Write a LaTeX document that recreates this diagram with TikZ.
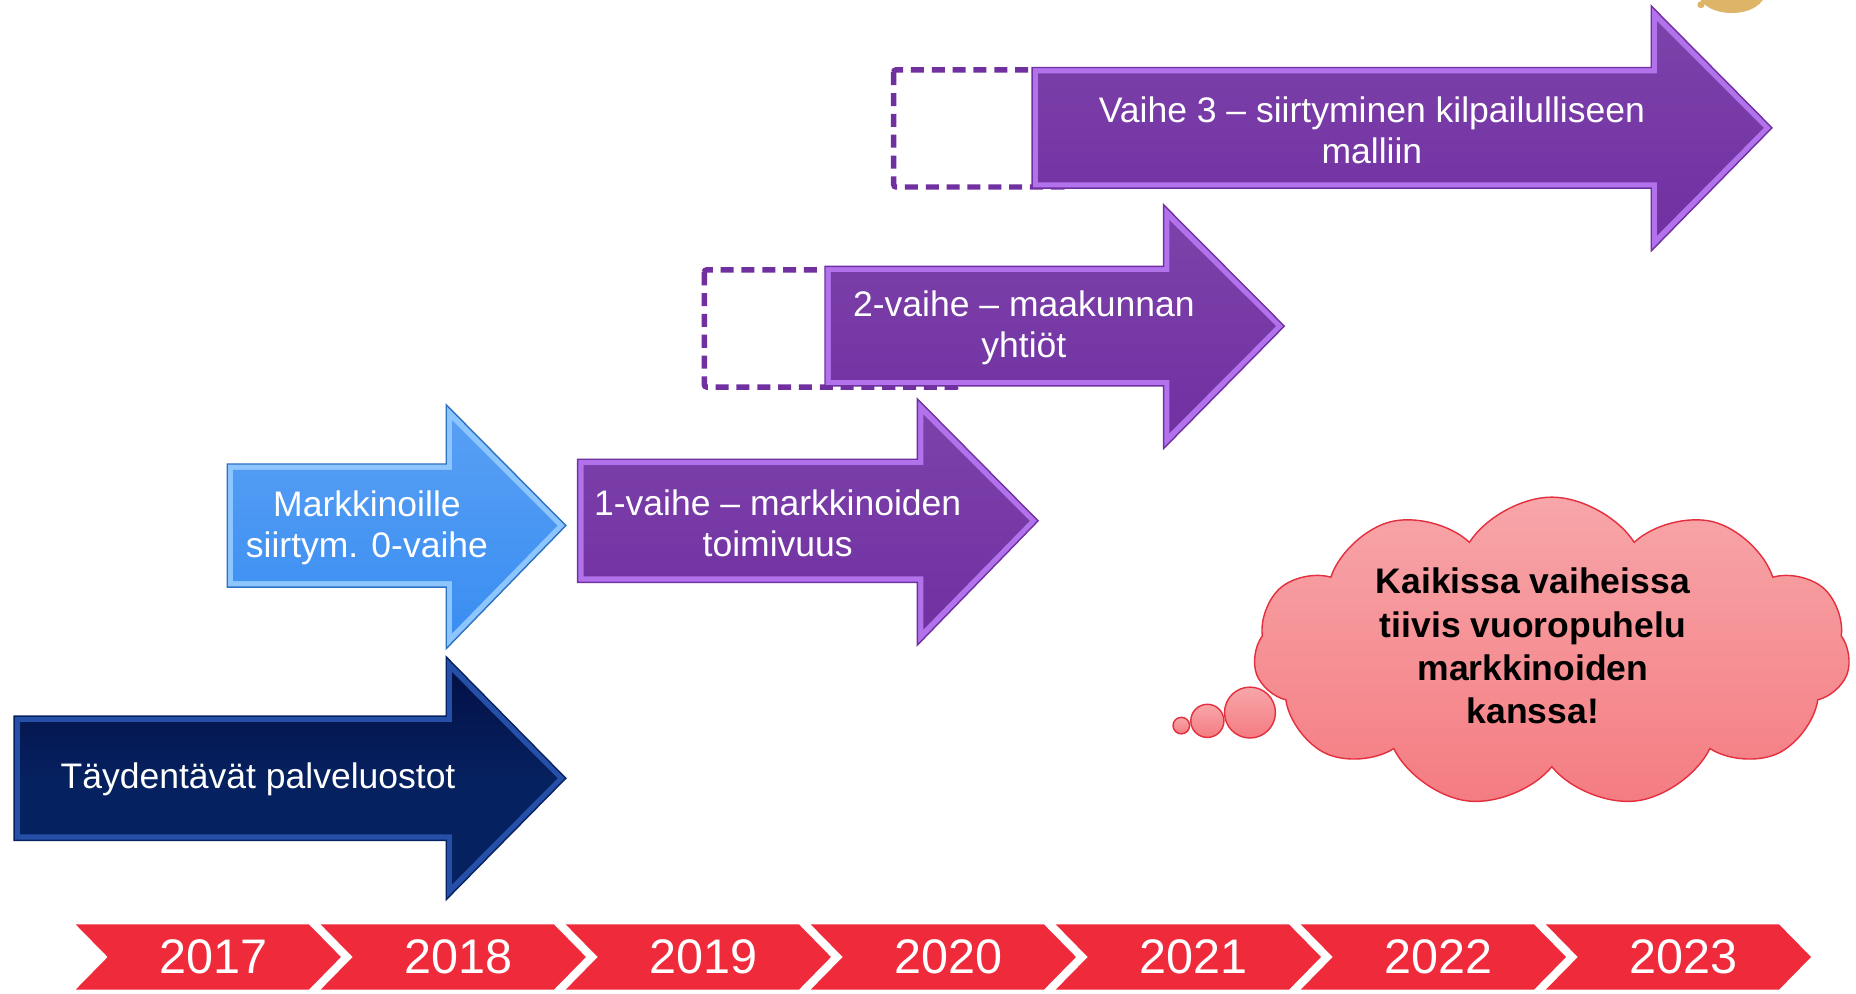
\documentclass[tikz,border=0pt]{standalone}
\usepackage{fontspec}
\setmainfont{Liberation Sans}
\usetikzlibrary{shapes.symbols}
\definecolor{navyface}{HTML}{06215F}
\definecolor{navyedge}{HTML}{2650A8}
\definecolor{blueface}{HTML}{3A8EF2}
\definecolor{blueedge}{HTML}{8DC6FF}
\definecolor{purpface}{HTML}{7131A2}
\definecolor{purpedge}{HTML}{B172EC}
\definecolor{purpdash}{HTML}{7030A0}
\definecolor{yearred}{HTML}{EE2A3B}
\definecolor{cloudtop}{HTML}{F7A6A9}
\definecolor{cloudbot}{HTML}{F47C82}
\definecolor{cloudline}{HTML}{E4303E}
\definecolor{goldtan}{HTML}{DDB468}
\newcommand{\bevarrow}[9]{%
 \pgfmathsetmacro{\ymid}{(#2+#3)/2}
 \path[#8] (#1,#2) -- (#4,#2) -- (#4,#5) -- (#7,\ymid) -- (#4,#6) -- (#4,#3) -- (#1,#3) -- cycle;
 \path[#9] ({#1+5},{#2+5}) -- ({#4+5},{#2+5}) -- ({#4+5},{#5+13}) -- ({#7-7},\ymid) -- ({#4+5},{#6-13}) -- ({#4+5},{#3-5}) -- ({#1+5},{#3-5}) -- cycle;
}
\tikzset{
 navyout/.style={fill=navyedge, draw=navyface, line width=0.6pt},
 navyin/.style={top color=navyface!85!blue!60!black, bottom color=navyface, middle color=navyface},
 blueout/.style={fill=blueedge, draw=blueface!80!black, line width=0.6pt},
 bluein/.style={top color=blueface!85!white, bottom color=blueface},
 purpout/.style={fill=purpedge, draw=purpdash, line width=0.6pt},
 purpin/.style={top color=purpface!92!white, bottom color=purpface},
 arrtext/.style={text=white, align=center, font=\fontsize{15}{17.5}\selectfont, inner sep=0pt},
 dashbox/.style={draw=purpdash, line width=2.3pt, dash pattern=on 5.5pt off 3.3pt, rounded corners=1pt},
 yearbox/.style={fill=yearred},
 yeartext/.style={text=white, font=\fontsize{20.5}{24}\selectfont, inner sep=0pt},
 bubble/.style={top color=cloudtop, bottom color=cloudbot, draw=cloudline, line width=0.6pt},
}
\begin{document}
\begin{tikzpicture}[x=0.5pt, y=-0.5pt]
\useasboundingbox (0,0) rectangle (1568,839);
\fill[white] (0,0) rectangle (1568,839);
% gold logo fragment
\begin{scope}
\clip (0,0) rectangle (1568,839);
\fill[goldtan] (1463,-6) ellipse [x radius=28, y radius=17];
\fill[goldtan] (1437,4) circle (3);
\end{scope}
% dashed placeholders
\draw[dashbox] (755,59) rectangle (900,158);
\draw[dashbox] (595,228) rectangle (810,327);
% arrows
\bevarrow{12}{605}{710}{377}{555}{760}{478}{navyout}{navyin}
\node[arrtext] (t0) at (218,658) {Täydentävät palveluostot};
\bevarrow{192}{392}{496}{377}{342}{548}{478}{blueout}{bluein}
\node[arrtext] (t1) at (310,446) {Markkinoille\\siirtym. 0-vaihe};
\bevarrow{488}{388}{492}{775}{337}{545}{877}{purpout}{purpin}
\node[arrtext] (t2) at (657,442) {1-vaihe – markkinoiden\\toimivuus};
\bevarrow{697}{225}{326}{983}{173}{379}{1085}{purpout}{purpin}
\node[arrtext] (t3) at (865,277) {2-vaihe – maakunnan\\yhtiöt};
\bevarrow{872}{57}{159}{1395}{5}{212}{1497}{purpout}{purpin}
\node[arrtext] (t4) at (1159,110) {Vaihe 3 – siirtyminen kilpailulliseen\\malliin};
% cloud
\node[cloud, cloud puffs=11, cloud puff arc=115, aspect=1.9, minimum width=252pt, minimum height=131pt, top color=cloudtop, bottom color=cloudbot, draw=cloudline, line width=0.6pt] (cl) at (1311,551) {};
\node[align=center, font=\bfseries\fontsize{15}{18.3}\selectfont, inner sep=0pt] (ct) at (1295,546) {Kaikissa vaiheissa\\tiivis vuoropuhelu\\markkinoiden\\kanssa!};
\node[circle, bubble, minimum size=21.5pt, inner sep=0pt] (b3) at (1056,602) {};
\node[circle, bubble, minimum size=14pt, inner sep=0pt] (b2) at (1020,609) {};
\node[circle, bubble, minimum size=7pt, inner sep=0pt] (b1) at (998,613) {};
% years
\foreach \i/\yr in {0/2017,1/2018,2/2019,3/2020,4/2021,5/2022,6/2023}{
 \pgfmathsetmacro{\xo}{64+207*\i}
 \fill[yearbox] (\xo,781) -- ({\xo+197},781) -- ({\xo+224},808.5) -- ({\xo+197},836) -- (\xo,836) -- ({\xo+27},808.5) -- cycle;
 \node[yeartext] (y\yr) at ({\xo+116},808.5) {\yr};
}
\end{tikzpicture}
\end{document}
